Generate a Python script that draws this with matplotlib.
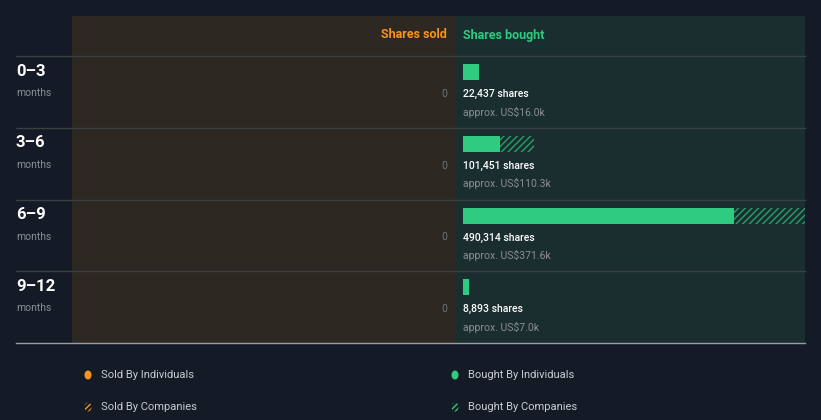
import matplotlib
matplotlib.use("Agg")
import matplotlib.pyplot as plt
from matplotlib.patches import Rectangle, Ellipse

# ---- data ----
periods = ["0–3", "3–6", "6–9", "9–12"]
sold_shares = [0, 0, 0, 0]
bought_individuals = [22437, 53000, 388000, 8893]
bought_companies = [0, 48451, 102314, 0]
bought_total_labels = ["22,437 shares", "101,451 shares", "490,314 shares", "8,893 shares"]
bought_value_labels = ["approx. US$16.0k", "approx. US$110.3k", "approx. US$371.6k", "approx. US$7.0k"]
legend_labels = ["Sold By Individuals", "Bought By Individuals", "Sold By Companies", "Bought By Companies"]

BG = "#151b26"
SOLD_BG = "#2d2822"
BOUGHT_BG = "#1a2d2f"
GREEN = "#2ecc81"
HATCH_GREEN = "#25a06a"
ORANGE = "#f7931e"
LINE = "#3b4045"
GRAY = "#8a8f95"

plt.rcParams['font.family'] = ['Roboto', 'DejaVu Sans']
plt.rcParams['hatch.linewidth'] = 1.0

W, H = 821, 420
fig = plt.figure(figsize=(W / 100, H / 100), dpi=100, facecolor=BG)
ax = fig.add_axes([0, 0, 1, 1])
ax.set_xlim(0, W)
ax.set_ylim(H, 0)
ax.axis("off")

top, head_bot, bot = 16, 56, 343
row_h = (bot - head_bot) / 4
ax.add_patch(Rectangle((72, top), 455 - 72, bot - top, color=SOLD_BG, lw=0, zorder=0))
ax.add_patch(Rectangle((455, top), 805 - 455, bot - top, color=BOUGHT_BG, lw=0, zorder=0))

ax.text(447, 35, "Shares sold", color=ORANGE, fontsize=9, fontweight="bold", ha="right", va="center")
ax.text(463, 35, "Shares bought", color=GREEN, fontsize=9, fontweight="bold", ha="left", va="center")

for i, p in enumerate(periods):
    y0 = head_bot + i * row_h
    ax.plot([16, 805], [y0, y0], color=LINE, lw=1, zorder=1)
    ax.text(16, y0 + 15, p, color="white", fontsize=12, fontweight="bold", ha="left", va="center")
    ax.text(16, y0 + 37, "months", color=GRAY, fontsize=7.5, ha="left", va="center")
    ax.text(447, y0 + 38, f"{sold_shares[i]}", color="#6f7378", fontsize=7.5, ha="right", va="center")
    ax.text(463, y0 + 38, bought_total_labels[i], color="white", fontsize=7.5, fontweight="medium",
            ha="left", va="center")
    ax.text(463, y0 + 56, bought_value_labels[i], color=GRAY, fontsize=7.5, ha="left", va="center")
ax.plot([16, 805], [bot, bot], color="#9a9ea3", lw=1, zorder=1)

# bars axes over bought panel
bx0, bx1 = 463, 805
bax = fig.add_axes([bx0 / W, 1 - bot / H, (bx1 - bx0) / W, (bot - head_bot) / H])
bax.set_facecolor("none")
bax.axis("off")
total_max = max(a + b for a, b in zip(bought_individuals, bought_companies))
bax.set_xlim(0, total_max)
bax.set_ylim(4, 0)
ys = [i + 16 / row_h for i in range(4)]
bh = 16 / row_h
bax.barh(ys, bought_individuals, height=bh, color=GREEN, lw=0)
bax.barh(ys, bought_companies, left=bought_individuals, height=bh, facecolor="none",
         edgecolor=HATCH_GREEN, hatch="/////", lw=0)

# legend
leg_pos = [(88, 375), (455, 375), (88, 407), (455, 407)]
for k, (lab, (x, y)) in enumerate(zip(legend_labels, leg_pos)):
    col = ORANGE if "Sold" in lab else GREEN
    if "Individuals" in lab:
        ax.add_patch(Ellipse((x, y), 7, 9, color=col, lw=0))
    else:
        ax.add_patch(Ellipse((x, y), 7, 9, facecolor="none", edgecolor=col, hatch="//////", lw=0))
    ax.text(x + 13, y, lab, color="#c9cdd2", fontsize=8, ha="left", va="center")

fig.savefig("out.png", dpi=100, facecolor=BG)
